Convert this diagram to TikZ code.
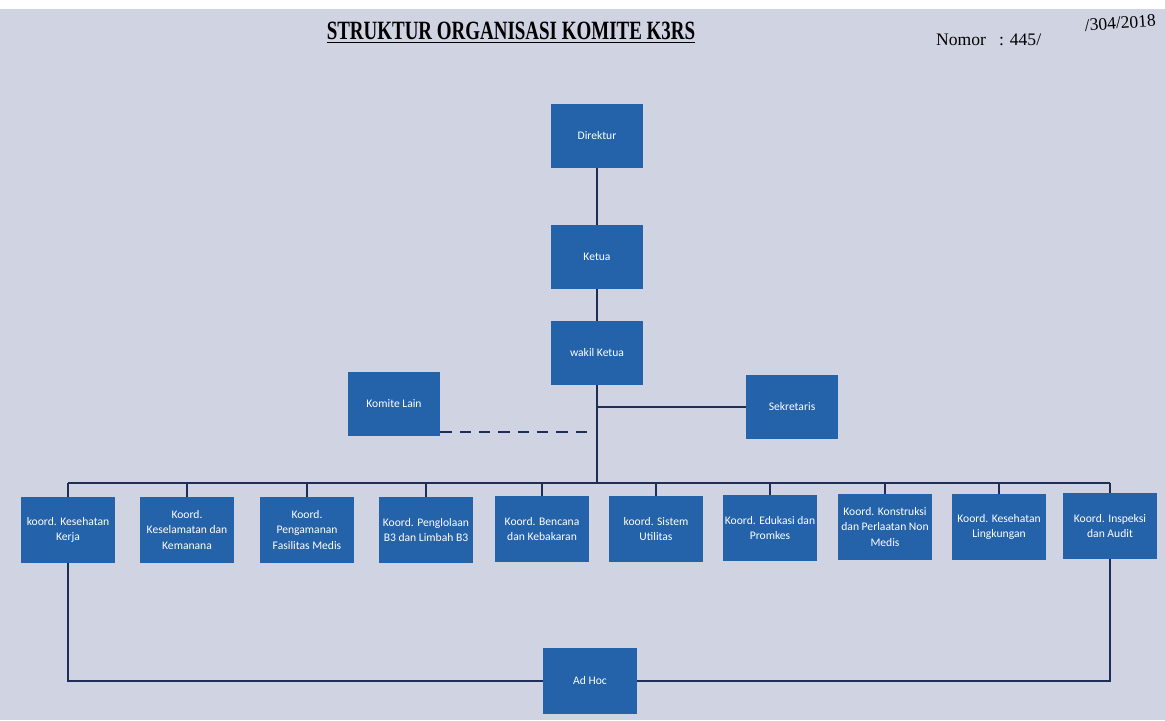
\documentclass[tikz,border=0pt]{standalone}
\usepackage{fontspec}
\setmainfont{Liberation Serif}
\newfontfamily\boxfont{Carlito}
\usepackage{tikz}
\usetikzlibrary{positioning,calc}
\definecolor{paper}{RGB}{207,211,226}
\definecolor{boxblue}{RGB}{36,98,170}
\definecolor{linenavy}{RGB}{30,46,86}

\begin{document}
\begin{tikzpicture}[x=0.02cm, y=-0.02cm,
    unit/.style={fill=boxblue, text=white, font=\boxfont\fontsize{6.6}{8.8}\selectfont,
      align=center, inner sep=1pt, minimum width=1.84cm, minimum height=1.28cm},
    koord/.style={unit, minimum width=1.88cm, minimum height=1.32cm},
    link/.style={linenavy, line width=1.6pt}]

  % Paper
  \useasboundingbox (0,0) rectangle (1165,720);
  \fill[paper] (0,0) rectangle (1165,720);
  \fill[white] (0,0) rectangle (1165,9);

  % Heading
  \node[font=\bfseries\fontsize{15}{17}\selectfont] (title) at (511,33)
    {\scalebox{0.72}[1]{\underline{STRUKTUR ORGANISASI KOMITE K3RS}}};
  \node[font=\fontsize{10}{12}\selectfont, anchor=west] (nomor) at (930,40) {Nomor\ \ \ : 445/};
  \node[font=\fontsize{10}{12}\selectfont, anchor=east, rotate=4] (tahun) at (1162,20) {/304/2018};

  % Top line
  \node[unit] (direktur) at (597,136) {Direktur};
  \node[unit] (ketua) at (597,257) {Ketua};
  \node[unit] (wakil) at (597,353) {wakil Ketua};
  \node[unit] (komite) at (394,404) {Komite Lain};
  \node[unit] (sekretaris) at (792,407) {Sekretaris};

  \coordinate (bus) at (597,483);
  \coordinate (dashend) at (591,432);

  \draw[link] (direktur) -- (ketua);
  \draw[link] (ketua) -- (wakil);
  \draw[link] (wakil) -- (bus);
  \draw[link] (sekretaris.west) -- (sekretaris.west -| wakil);
  \draw[link, dash pattern=on 6.5pt off 4.5pt] (komite.east |- dashend) -- (dashend);

  % Coordinators
  \node[koord] (k1) at (68,530) {koord. Kesehatan\\Kerja};
  \node[koord] (k2) at (187,530) {Koord.\\Keselamatan dan\\Kemanana};
  \node[koord] (k3) at (307,530) {Koord.\\Pengamanan\\Fasilitas Medis};
  \node[koord] (k4) at (426,530) {Koord. Penglolaan\\B3 dan Limbah B3};
  \node[koord] (k5) at (542,529) {Koord. Bencana\\dan Kebakaran};
  \node[koord] (k6) at (656,529) {koord. Sistem\\Utilitas};
  \node[koord] (k7) at (770,528) {Koord. Edukasi dan\\Promkes};
  \node[koord] (k8) at (885,527) {Koord. Konstruksi\\dan Perlaatan Non\\Medis};
  \node[koord] (k9) at (999,527) {Koord. Kesehatan\\Lingkungan};
  \node[koord] (k10) at (1110,526) {Koord. Inspeksi\\dan Audit};

  \draw[link] (k1.north |- bus) -- (k10.north |- bus);
  \foreach \i in {1,...,10}
    \draw[link] (k\i.north |- bus) -- (k\i.north);

  % Ad Hoc
  \node[unit, minimum width=1.88cm, minimum height=1.32cm] (adhoc) at (590,681) {Ad Hoc};
  \draw[link] (k1.south) |- (adhoc.west);
  \draw[link] (k10.south) |- (adhoc.east);

\end{tikzpicture}
\end{document}
